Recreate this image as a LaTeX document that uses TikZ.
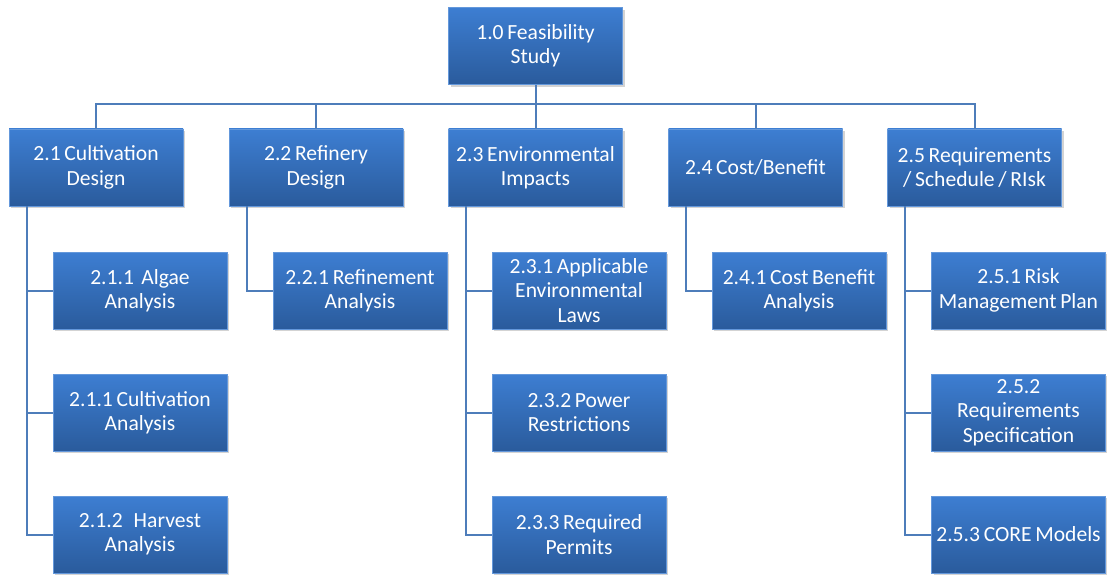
\documentclass[tikz,border=0pt]{standalone}
\usepackage{fontspec}
\setmainfont{Carlito}
\usetikzlibrary{shadows}
\usetikzlibrary{positioning}

\definecolor{boxtop}{HTML}{3D7ED2}
\definecolor{boxbot}{HTML}{2A5B9C}
\definecolor{wire}{HTML}{4E7DBA}
\newcommand{\boxfont}{\fontsize{10.8}{12.2}\selectfont\spaceskip=0.17em plus 0.05em\relax}

\begin{document}
\begin{tikzpicture}[
    x=0.5pt, y=-0.5pt,
    task/.style={rectangle, top color=boxtop, bottom color=boxbot, draw=boxtop!80!white, line width=0.3pt,
        minimum width=87pt, minimum height=38.5pt, align=center, inner sep=1pt,
        text=white, font=\boxfont,
        drop shadow={opacity=0.35, shadow xshift=1.2pt, shadow yshift=-1.2pt}},
    wbs/.style={draw=wire, line width=1pt}
]
\useasboundingbox (0,0) rectangle (1107,577);

% --- Top level ---
\node[task] (top) at (535.5,46) {1.0 Feasibility\\Study};

% --- Second level ---
\node[task] (n21) at (96,167.5) {2.1 Cultivation\\Design};
\node[task] (n22) at (316,167.5) {2.2 Refinery\\Design};
\node[task] (n23) at (535.5,167.5) {2.3 Environmental\\Impacts};
\node[task] (n24) at (755.5,167.5) {2.4 Cost/Benefit};
\node[task] (n25) at (974.5,167.5) {2.5 Requirements\\/ Schedule / RIsk};

% --- Third level ---
\node[task] (n211) at (140,290.5) {2.1.1\ \ Algae\\Analysis};
\node[task] (n212) at (140,412.5) {2.1.1 Cultivation\\Analysis};
\node[task] (n213) at (140,534.5) {2.1.2\ \ \ Harvest\\Analysis};
\node[task] (n221) at (360,290.5) {2.2.1 Refinement\\Analysis};
\node[task] (n231) at (579,290.5) {2.3.1 Applicable\\Environmental\\Laws};
\node[task] (n232) at (579,412.5) {2.3.2 Power\\Restrictions};
\node[task] (n233) at (579,534.5) {2.3.3 Required\\Permits};
\node[task] (n241) at (799,290.5) {2.4.1 Cost Benefit\\Analysis};
\node[task] (n251) at (1018.5,290.5) {2.5.1 Risk\\Management Plan};
\node[task] (n252) at (1018.5,412.5) {2.5.2\\Requirements\\Specification};
\node[task] (n253) at (1018.5,534.5) {2.5.3 CORE Models};

% --- Bus from top to second level ---
\coordinate (bus) at (535.5,104);
\draw[wbs] (top.south) -- (bus);
\foreach \i in {21,22,23,24,25}
{
    \draw[wbs] (bus) -| (n\i.north);
}

% --- Trunks to third level ---
\foreach \p/\c in {21/211, 21/212, 21/213, 22/221, 23/231, 23/232, 23/233, 24/241, 25/251, 25/252, 25/253}
{
    \draw[wbs] ([xshift=9pt]n\p.south west) |- (n\c.west);
}

\end{tikzpicture}
\end{document}
